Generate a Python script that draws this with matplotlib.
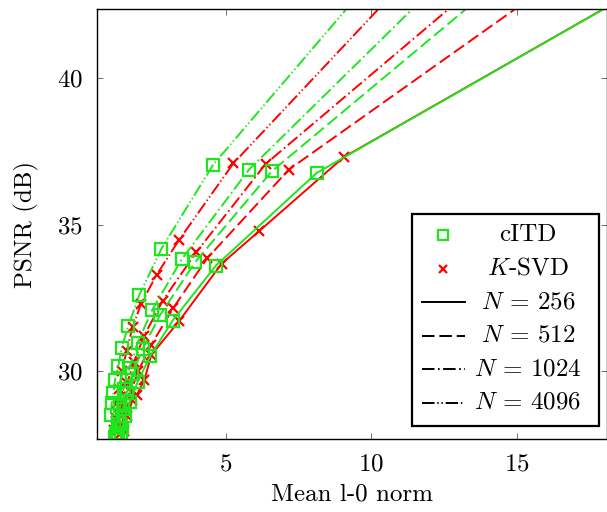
import matplotlib
matplotlib.use("Agg")
import matplotlib.pyplot as plt
from matplotlib.lines import Line2D
from matplotlib.patches import Rectangle

plt.rcParams['font.family'] = ['cmr10', 'DejaVu Serif']
plt.rcParams['mathtext.fontset'] = 'cm'
plt.rcParams['axes.unicode_minus'] = False
plt.rcParams['axes.formatter.use_mathtext'] = True
plt.rcParams['lines.scale_dashes'] = False

# --- data (mean l0 norm, PSNR dB) ---
# last point of each curve lies outside the visible area (line leaves the top)
citd_256_x = [1.40, 1.45, 1.55, 1.72, 1.98, 2.42, 3.18, 4.67, 8.13, 20.0]
citd_256_y = [27.80, 28.05, 28.45, 28.95, 29.63, 30.52, 31.72, 33.60, 36.76, 43.5]
citd_512_x = [1.32, 1.38, 1.47, 1.60, 1.80, 2.15, 2.75, 3.95, 6.59, 15.0]
citd_512_y = [27.85, 28.20, 28.70, 29.25, 29.90, 30.75, 31.91, 33.71, 36.82, 43.8]
citd_1024_x = [1.25, 1.30, 1.38, 1.50, 1.70, 1.98, 2.48, 3.49, 5.81, 13.0]
citd_1024_y = [27.90, 28.30, 28.80, 29.40, 30.10, 30.97, 32.08, 33.81, 36.88, 43.9]
citd_4096_x = [1.20, 1.05, 1.09, 1.15, 1.20, 1.32, 1.43, 1.66, 2.04, 2.80, 4.58, 11.0]
citd_4096_y = [27.76, 28.50, 28.90, 29.24, 29.69, 30.18, 30.80, 31.55, 32.60, 34.18, 37.05, 44.5]

ksvd_256_x = [1.50, 1.62, 1.80, 1.95, 2.21, 2.45, 3.40, 4.87, 6.16, 9.06, 20.0]
ksvd_256_y = [27.95, 28.45, 29.00, 29.18, 29.69, 30.55, 31.70, 33.67, 34.78, 37.30, 43.5]
ksvd_512_x = [1.38, 1.46, 1.58, 1.75, 2.00, 2.45, 3.21, 4.37, 7.18, 17.0]
ksvd_512_y = [27.85, 28.20, 28.70, 29.30, 30.00, 30.90, 32.16, 33.85, 36.88, 43.8]
ksvd_1024_x = [1.30, 1.38, 1.48, 1.62, 1.85, 2.20, 2.84, 3.99, 6.38, 14.5]
ksvd_1024_y = [28.00, 28.50, 29.00, 29.60, 30.30, 31.20, 32.40, 34.05, 37.07, 43.9]
ksvd_4096_x = [1.18, 1.22, 1.28, 1.35, 1.45, 1.60, 1.81, 2.10, 2.63, 3.40, 5.27, 12.0]
ksvd_4096_y = [28.00, 28.40, 28.90, 29.40, 30.00, 30.70, 31.50, 32.30, 33.28, 34.47, 37.09, 44.2]

n_labels = ['$N$ = 256', '$N$ = 512', '$N$ = 1024', '$N$ = 4096']
x_ticks = [5, 10, 15]
y_ticks = [30, 35, 40]

GREEN = '#1ee61e'
RED = '#ff0000'
styles = ['-', (0, (9, 3.5)), (0, (9, 2.5, 1.2, 2.5)), (0, (9, 2, 1, 2, 1, 2))]

fig = plt.figure(figsize=(6.07, 5.12), dpi=100)
ax = fig.add_axes([97 / 607, 1 - 439 / 512, 510 / 607, 430 / 512])

ksvd = [(ksvd_256_x, ksvd_256_y), (ksvd_512_x, ksvd_512_y),
        (ksvd_1024_x, ksvd_1024_y), (ksvd_4096_x, ksvd_4096_y)]
citd = [(citd_256_x, citd_256_y), (citd_512_x, citd_512_y),
        (citd_1024_x, citd_1024_y), (citd_4096_x, citd_4096_y)]

for (xs, ys), ls in zip(ksvd, styles):
    ax.plot(xs, ys, color=RED, ls=ls, lw=1.4, marker='x', ms=6.5, mew=1.6)
for (xs, ys), ls in zip(citd, styles):
    ax.plot(xs, ys, color=GREEN, ls=ls, lw=1.4, marker='s', ms=8,
            mfc='none', mew=1.6)

ax.set_xlim(0.584, 18.11)
ax.set_ylim(27.68, 42.36)
ax.set_xticks(x_ticks)
ax.set_yticks(y_ticks)
ax.tick_params(direction='in', top=True, right=True, length=4.5, width=0.6,
               color='#555555', labelsize=18)
ax.tick_params(axis='y', pad=10)
ax.tick_params(axis='x', pad=10)
for s in ax.spines.values():
    s.set_linewidth(1.0)
ax.set_xlabel('Mean l-0 norm', fontsize=18, labelpad=6)
ax.set_ylabel('PSNR (dB)', fontsize=18, labelpad=13)

# --- legend box, pgfplots style (centred texts) ---
ax.add_patch(Rectangle((0.617, 0.030), 0.367, 0.493, transform=ax.transAxes,
                       fc='white', ec='black', lw=1.6, zorder=5))
rows = [0.474, 0.396, 0.318, 0.240, 0.162, 0.084]
hx0, hx1, hxc, tx = 0.637, 0.7216, 0.679, 0.845
ax.add_line(Line2D([hxc], [rows[0]], transform=ax.transAxes, ls='none',
                   marker='s', ms=7, mfc='none', mec=GREEN, mew=1.6, zorder=6))
ax.add_line(Line2D([hxc], [rows[1]], transform=ax.transAxes, ls='none',
                   marker='x', ms=5.5, mec=RED, mew=1.6, zorder=6))
ax.text(tx, rows[0], 'cITD', transform=ax.transAxes, ha='center', va='center',
        fontsize=18, zorder=6)
ax.text(tx, rows[1], '$K$-SVD', transform=ax.transAxes, ha='center',
        va='center', fontsize=18, zorder=6)
for r, ls, lab in zip(rows[2:], styles, n_labels):
    ax.add_line(Line2D([hx0, hx1], [r, r], transform=ax.transAxes, color='k',
                       ls=ls, lw=1.4, zorder=6))
    ax.text(tx, r, lab, transform=ax.transAxes, ha='center', va='center',
            fontsize=18, zorder=6)

fig.savefig('out.png', dpi=100)
